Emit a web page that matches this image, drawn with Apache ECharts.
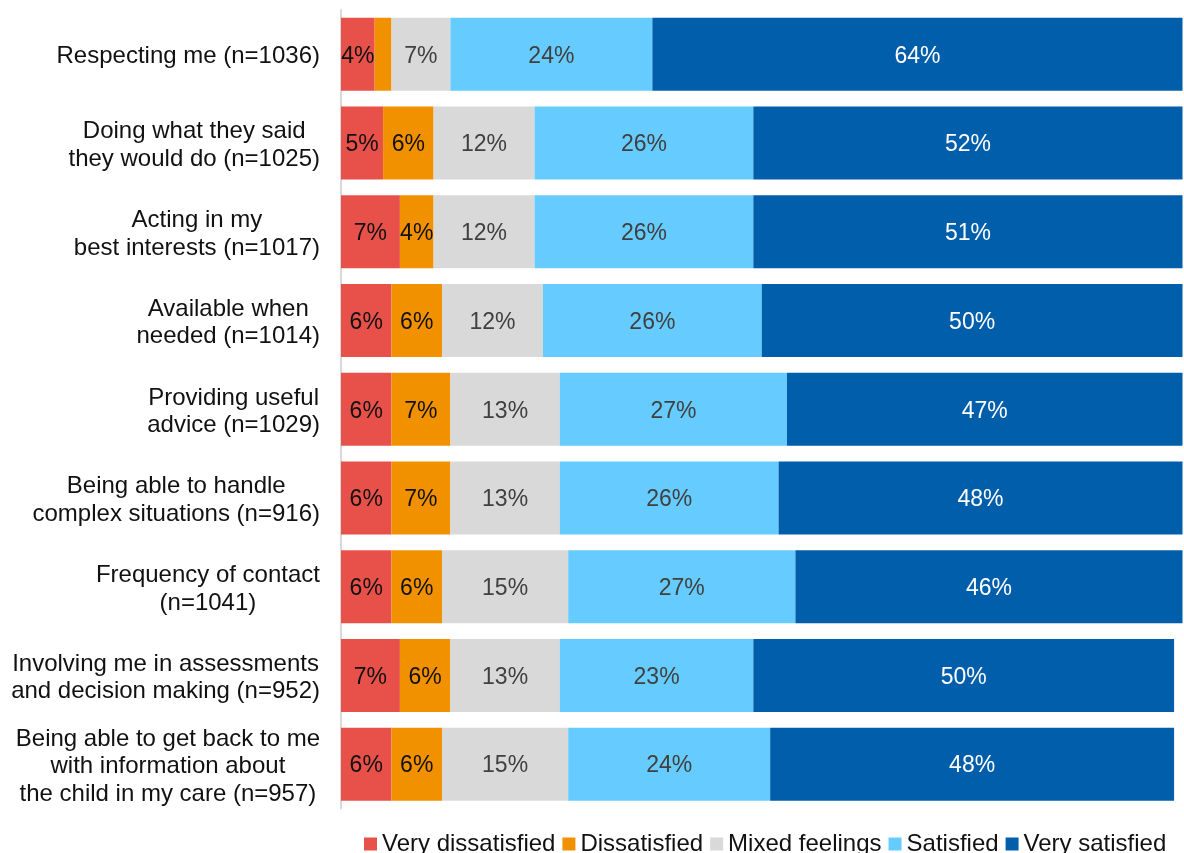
<!DOCTYPE html>
<html>
<head>
<meta charset="utf-8">
<title>Satisfaction with social worker</title>
<script src="https://cdn.jsdelivr.net/npm/echarts@6/dist/echarts.min.js"></script>
<style>
  html, body { margin: 0; padding: 0; background: #fff; }
  #chart { width: 1184px; height: 853px; }
</style>
</head>
<body>
<div id="chart"></div>
<script>
// Aspects of the service rated by carers (top to bottom)
const categories = [
  'Respecting me (n=1036)',
  'Doing what they said\nthey would do (n=1025)',
  'Acting in my\nbest interests (n=1017)',
  'Available when\nneeded (n=1014)',
  'Providing useful\nadvice (n=1029)',
  'Being able to handle\ncomplex situations (n=916)',
  'Frequency of contact\n(n=1041)',
  'Involving me in assessments\nand decision making (n=952)',
  'Being able to get back to me\nwith information about\nthe child in my care (n=957)'
];

// Percentages per response level
const veryDissatisfied = [4, 5, 7, 6, 6, 6, 6, 7, 6];
const dissatisfied     = [2, 6, 4, 6, 7, 7, 6, 6, 6];
const mixedFeelings    = [7, 12, 12, 12, 13, 13, 15, 13, 15];
const satisfied        = [24, 26, 26, 26, 27, 26, 27, 23, 24];
const verySatisfied    = [64, 52, 51, 50, 47, 48, 46, 50, 48];

const seriesNames = ['Very dissatisfied', 'Dissatisfied', 'Mixed feelings', 'Satisfied', 'Very satisfied'];
const seriesData = [veryDissatisfied, dissatisfied, mixedFeelings, satisfied, verySatisfied];
const colors = ['#E8514A', '#F29100', '#D9D9D9', '#66CCFF', '#005EAA'];
const labelColors = ['#111111', '#111111', '#404040', '#404040', '#ffffff'];

const FONT = '"Liberation Sans", Arial, sans-serif';

const chart = echarts.init(document.getElementById('chart'), null, { renderer: 'canvas' });

const series = seriesNames.map((name, i) => ({
  name: name,
  type: 'bar',
  stack: 'total',
  barWidth: 73,
  clip: true,
  data: seriesData[i],
  itemStyle: { color: colors[i] },
  label: {
    show: true,
    position: 'inside',
    offset: [0, 2],
    fontFamily: FONT,
    fontSize: 23,
    color: labelColors[i],
    formatter: p => (p.value < 3 ? '' : p.value + '%')
  },
  emphasis: { disabled: true }
}));

chart.setOption({
  animation: false,
  backgroundColor: '#ffffff',
  textStyle: { fontFamily: FONT },
  grid: { left: 341, right: 1.5, top: 10, bottom: 44.5, containLabel: false },
  legend: {
    data: seriesNames,
    left: 359,
    top: 827,
    icon: 'rect',
    itemWidth: 13,
    itemHeight: 13,
    itemGap: 7,
    textStyle: { fontFamily: FONT, fontSize: 24, color: '#111111' },
    selectedMode: false
  },
  xAxis: {
    type: 'value',
    min: 0,
    max: 100,
    show: false,
    splitLine: { show: false }
  },
  yAxis: {
    type: 'category',
    inverse: true,
    data: categories,
    axisLine: { show: true, lineStyle: { color: '#D9D9D9', width: 2 } },
    axisTick: { show: false },
    axisLabel: {
      margin: 21,
      align: 'right',
      padding: [5, 0, 0, 0],
      fontFamily: FONT,
      fontSize: 24,
      color: '#111111',
      lineHeight: 27.5,
      formatter: v => v.split('\n').map(line => '{c|' + line + '}').join('\n'),
      rich: {
        c: { align: 'center', fontFamily: FONT, fontSize: 24, color: '#111111', lineHeight: 27.5 }
      }
    }
  },
  series: series
});
</script>
</body>
</html>
